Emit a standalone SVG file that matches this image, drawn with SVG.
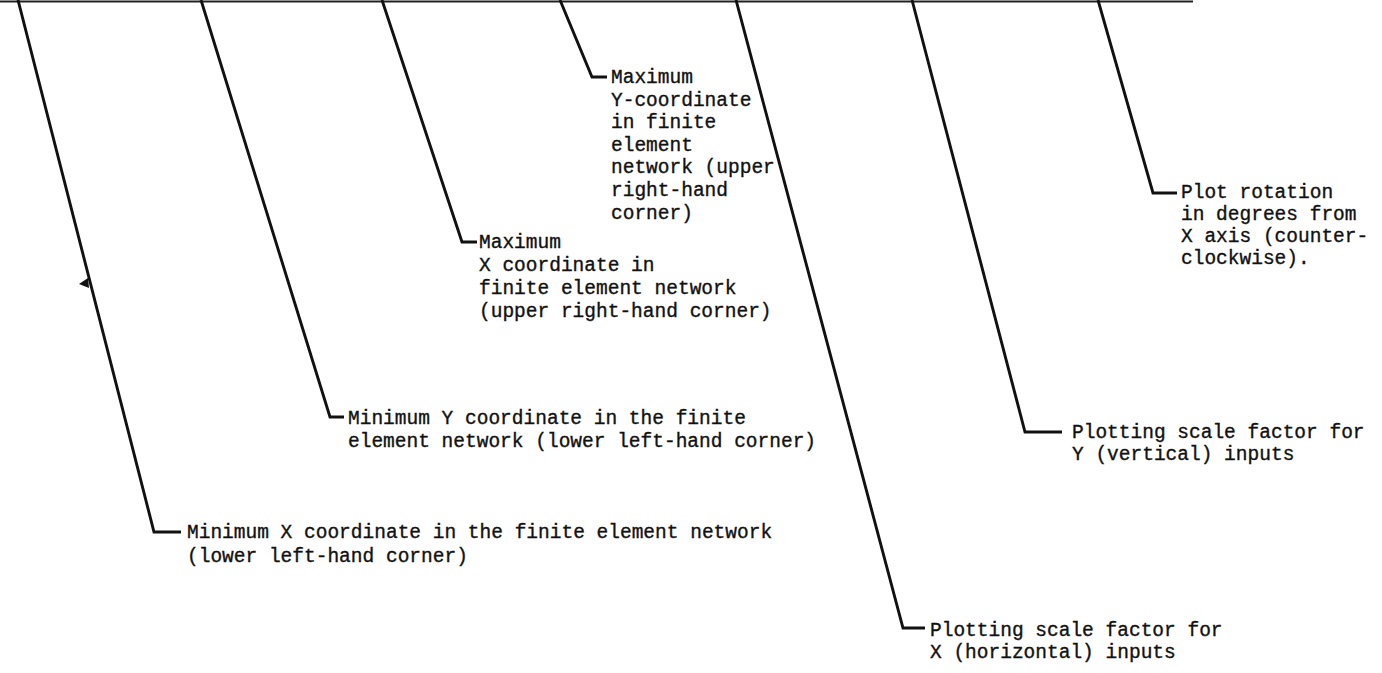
<svg xmlns="http://www.w3.org/2000/svg" width="1382" height="673" viewBox="0 0 1382 673">
<style>
.ln{fill:none;stroke:#111;stroke-width:2.9;stroke-linejoin:miter;stroke-linecap:butt}
.top{fill:none;stroke:#222;stroke-width:2}
.t{font-family:"Liberation Mono","Courier New",monospace;font-size:19.5px;fill:#111;stroke:#111;stroke-width:0.35}
</style>
<rect width="1382" height="673" fill="#fff"/>
<g id="connectors">
<line class="top" x1="0" y1="1.5" x2="1193" y2="1.5"/>
<polyline class="ln" points="18,0 154,532 181,532"/>
<polyline class="ln" points="201,0 330,417 344,417"/>
<polyline class="ln" points="382,0 462,242 477,242"/>
<polyline class="ln" points="560,0 592,77 607,77"/>
<polyline class="ln" points="736,0 903,628 925,628"/>
<polyline class="ln" points="912,0 1025,432 1062,432"/>
<polyline class="ln" points="1098,0 1153,193 1177,193"/>
<path d="M88,278 L79,284 L89,288 Z" fill="#111"/>
</g>
<g id="min-x">
<text class="t" x="187" y="538">Minimum X coordinate in the finite element network</text>
<text class="t" x="187" y="562">(lower left-hand corner)</text>
</g>
<g id="min-y">
<text class="t" x="348" y="424">Minimum Y coordinate in the finite</text>
<text class="t" x="348" y="447">element network (lower left-hand corner)</text>
</g>
<g id="max-x">
<text class="t" x="479" y="248">Maximum</text>
<text class="t" x="479" y="271">X coordinate in</text>
<text class="t" x="479" y="294">finite element network</text>
<text class="t" x="479" y="317">(upper right-hand corner)</text>
</g>
<g id="max-y">
<text class="t" x="611" y="83">Maximum</text>
<text class="t" x="611" y="106">Y-coordinate</text>
<text class="t" x="611" y="128">in finite</text>
<text class="t" x="611" y="151">element</text>
<text class="t" x="611" y="173">network (upper</text>
<text class="t" x="611" y="196">right-hand</text>
<text class="t" x="611" y="219">corner)</text>
</g>
<g id="scale-x">
<text class="t" x="930" y="636">Plotting scale factor for</text>
<text class="t" x="930" y="658">X (horizontal) inputs</text>
</g>
<g id="scale-y">
<text class="t" x="1072" y="438">Plotting scale factor for</text>
<text class="t" x="1072" y="460">Y (vertical) inputs</text>
</g>
<g id="rotation">
<text class="t" x="1181" y="198">Plot rotation</text>
<text class="t" x="1181" y="220">in degrees from</text>
<text class="t" x="1181" y="242">X axis (counter-</text>
<text class="t" x="1181" y="264">clockwise).</text>
</g>
</svg>
